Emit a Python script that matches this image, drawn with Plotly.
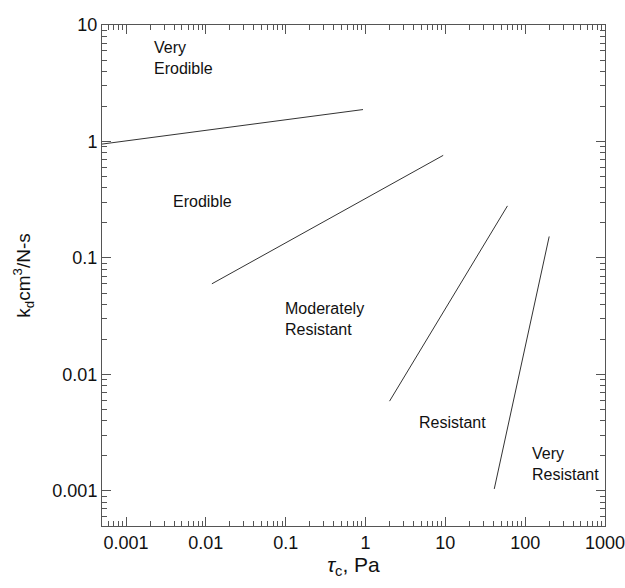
import math
import plotly.graph_objects as go

# Boundary lines between erodibility classes (tau_c in Pa, kd in cm^3/N-s)
line1_x = [0.0005, 0.93]
line1_y = [0.95, 1.88]
line2_x = [0.0119, 9.4]
line2_y = [0.060, 0.76]
line3_x = [2.0, 60.0]
line3_y = [0.0059, 0.28]
line4_x = [41.0, 200.0]
line4_y = [0.00104, 0.153]

label_text = ["Very<br>Erodible", "Erodible", "Moderately<br>Resistant", "Resistant", "Very<br>Resistant"]
label_x = [0.00212, 0.00366, 0.093, 4.43, 115.0]
label_y = [5.25, 0.306, 0.0298, 0.0039, 0.0017]

x_tickvals = [0.001, 0.01, 0.1, 1, 10, 100, 1000]
x_ticktext = ["0.001", "0.01", "0.1", "1", "10", "100", "1000"]
y_tickvals = [0.001, 0.01, 0.1, 1, 10]
y_ticktext = ["0.001", "0.01", "0.1", "1", "10"]

x_minor = [m * 10.0 ** d for d in range(-4, 3) for m in range(2, 10)]
y_minor = [m * 10.0 ** d for d in range(-4, 1) for m in range(2, 10)]

FONT = "Liberation Sans, Arial"

fig = go.Figure()
for xs, ys in [(line1_x, line1_y), (line2_x, line2_y), (line3_x, line3_y), (line4_x, line4_y)]:
    fig.add_trace(go.Scatter(x=xs, y=ys, mode="lines",
                             line=dict(color="#333333", width=1), showlegend=False,
                             hoverinfo="skip"))

for t, x, y in zip(label_text, label_x, label_y):
    fig.add_annotation(x=math.log10(x), y=math.log10(y),
                       text=t, showarrow=False, xanchor="left", yanchor="middle",
                       align="left", font=dict(family=FONT, size=16, color="#111"))

def axis_common(minor_vals):
    return dict(
        type="log", showgrid=False, zeroline=False, showline=True, linecolor="#555",
        linewidth=1, mirror="allticks", ticks="inside", ticklen=9, tickcolor="#555",
        automargin=False, ticklabeloverflow="allow",
        minor=dict(ticks="inside", ticklen=5, tickcolor="#555", showgrid=False,
                   tickmode="array", tickvals=minor_vals),
        tickfont=dict(family=FONT, size=18, color="#111"),
    )

fig.update_xaxes(**axis_common(x_minor), range=[-3.301, 3], tickvals=x_tickvals, ticktext=x_ticktext,
                 title=dict(text="<i>τ</i><sub>c</sub>, Pa", standoff=4,
                            font=dict(family=FONT, size=21, color="#111")))
fig.update_yaxes(**axis_common(y_minor), range=[-3.301, 1], tickvals=y_tickvals, ticktext=y_ticktext,
                 title=dict(text="k<sub>d</sub>cm<sup>3</sup>/N-s", standoff=16,
                            font=dict(family=FONT, size=19, color="#111")))

fig.update_layout(width=625, height=588, plot_bgcolor="white", paper_bgcolor="white",
                  margin=dict(l=102, r=20, t=25, b=62))
fig.write_html("out.html", config={"displayModeBar": False},
               post_script="document.body.style.margin='0';document.body.style.overflow='hidden';")
